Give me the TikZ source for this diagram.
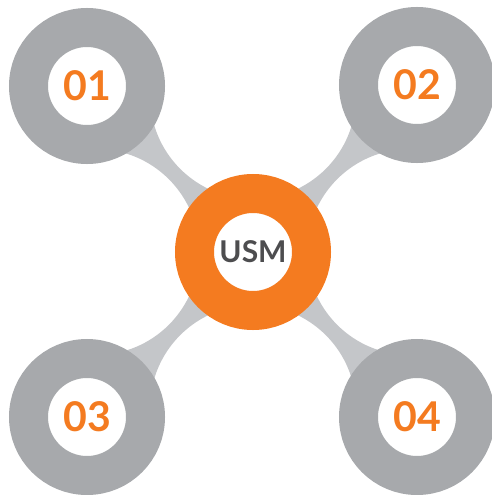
\documentclass[tikz,border=0pt]{standalone}
\usepackage{fontspec}
\setmainfont{Lato}
\definecolor{ringgray}{HTML}{A7A9AC}
\definecolor{linkgray}{HTML}{C4C6C9}
\definecolor{usmorange}{HTML}{F47B20}
\definecolor{textgray}{HTML}{4D4D4F}
\tikzset{
	ring/.style={circle,draw=ringgray,fill=white,line width=39pt,minimum size=117pt,inner sep=0pt,text=usmorange,font=\bfseries\fontsize{41}{41}\selectfont},
	hub/.style={ring,draw=usmorange,text=textgray,font=\bfseries\fontsize{30}{30}\selectfont}
}
\begin{document}
\begin{tikzpicture}[x=1pt,y=-1pt]
			\useasboundingbox(0,0)rectangle(492,495);
			\coordinate(p1)at(87,86);
			\coordinate(p2)at(417,85);
			\coordinate(p3)at(87,417);
			\coordinate(p4)at(417,417);
			\coordinate(hc)at(253,252);
			% light gray band between the rings
			\begin{scope}
				\clip(p1)rectangle(p4);
				\fill[linkgray,even odd rule](0,0)rectangle(492,495)
					(253,96)circle[radius=103pt](96,252)circle[radius=103pt]
					(410,252)circle[radius=103pt](253,408)circle[radius=103pt];
			\end{scope}
			\node[ring](n1)at(p1){01};
			\node[ring](n2)at(p2){02};
			\node[ring](n3)at(p3){03};
			\node[ring](n4)at(p4){04};
			\node[hub](usm)at(hc){USM};
		\end{tikzpicture}
\end{document}
